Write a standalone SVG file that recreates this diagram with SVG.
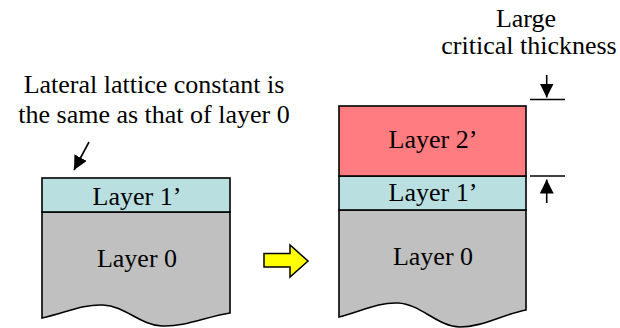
<svg xmlns="http://www.w3.org/2000/svg" width="620" height="328" viewBox="0 0 620 328">
<style>
.layer{stroke:#000;stroke-width:1.6}
.l0{fill:#c0c0c0}
.l1{fill:#b9dfe1}
.l2{fill:#ff7c80}
.ln{stroke:#000;stroke-width:1.6;fill:none}
</style>
<defs>
<marker id="ah" viewBox="0 0 14 14" refX="14" refY="7" markerWidth="14" markerHeight="14" markerUnits="userSpaceOnUse" orient="auto">
<path d="M0,0 L14,7 L0,14 Z" fill="#000"/>
</marker>
</defs>
<rect width="620" height="328" fill="#fff"/>
<g id="label-left">
<text font-family="Liberation Serif" font-size="26" text-anchor="middle" x="154" y="93">Lateral lattice constant is</text>
<text font-family="Liberation Serif" font-size="26" text-anchor="middle" x="154" y="123">the same as that of layer 0</text>
</g>
<g id="label-right">
<text font-family="Liberation Serif" font-size="26" text-anchor="middle" x="526" y="27">Large</text>
<text font-family="Liberation Serif" font-size="26" text-anchor="middle" x="529" y="54">critical thickness</text>
</g>
<g id="left-layer0">
<path class="layer l0" d="M42,212 L230,212 L230,313 C205,317 185,327 162,326 C140,325 125,306 103,305 C83,304 65,313 42,318 Z"/>
<text font-family="Liberation Serif" font-size="26" text-anchor="middle" x="137" y="267">Layer 0</text>
</g>
<g id="left-layer1">
<rect class="layer l1" x="42" y="178" width="188" height="34"/>
<text font-family="Liberation Serif" font-size="26" text-anchor="middle" x="137" y="205">Layer 1&#8217;</text>
</g>
<g id="right-layer0">
<path class="layer l0" d="M339,210 L526,210 L526,310 C501,315 482,327 460,327 C438,327 421,304 398,303 C378,302 360,312 339,317 Z"/>
<text font-family="Liberation Serif" font-size="26" text-anchor="middle" x="433" y="265">Layer 0</text>
</g>
<g id="right-layer1">
<rect class="layer l1" x="339" y="176" width="187" height="34"/>
<text font-family="Liberation Serif" font-size="26" text-anchor="middle" x="433" y="201">Layer 1&#8217;</text>
</g>
<g id="right-layer2">
<rect class="layer l2" x="339" y="106" width="187" height="70"/>
<text font-family="Liberation Serif" font-size="26" text-anchor="middle" x="433" y="148">Layer 2&#8217;</text>
</g>
<g id="transition-arrow">
<path d="M264,253.5 L290,253.5 L290,245 L308,261 L290,277 L290,267 L264,267 Z" fill="#ffff00" stroke="#000" stroke-width="1.5"/>
</g>
<g id="connectors">
<line class="ln" x1="89" y1="142" x2="74" y2="170" marker-end="url(#ah)"/>
<line class="ln" x1="530" y1="99.5" x2="565" y2="99.5"/>
<line class="ln" x1="530" y1="176" x2="565" y2="176"/>
<line class="ln" x1="546.7" y1="75" x2="546.7" y2="97.5" marker-end="url(#ah)"/>
<line class="ln" x1="546.7" y1="203" x2="546.7" y2="179.5" marker-end="url(#ah)"/>
</g>
</svg>
